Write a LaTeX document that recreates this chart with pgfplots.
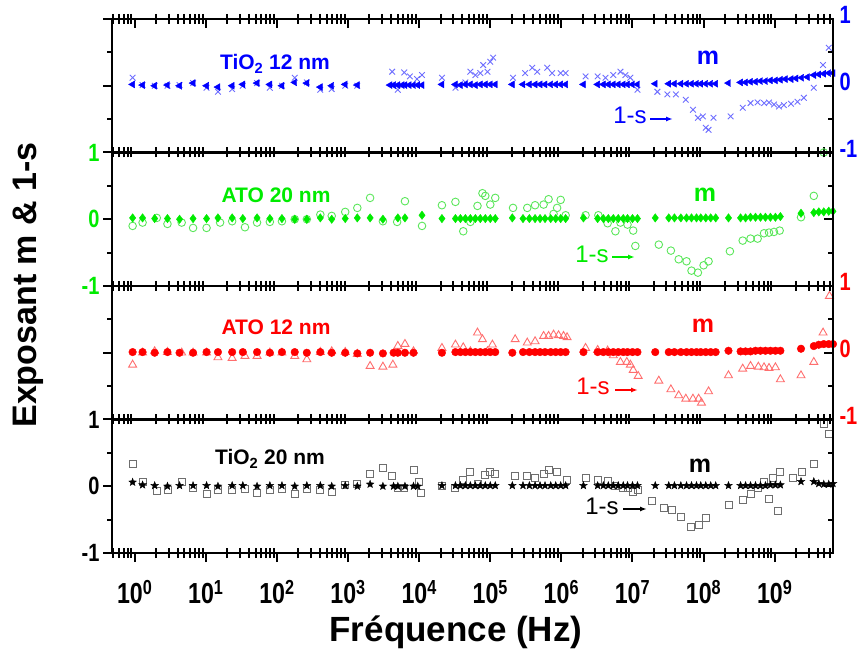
\documentclass[border=0pt]{standalone}
\usepackage{fontspec}
\setmainfont{Liberation Sans}
\newfontfamily\tickfont{Liberation Sans}[FakeStretch=0.8]
\usepackage{pgfplots}
\usepackage{pgfplotstable}
\pgfplotsset{compat=1.18}
\usetikzlibrary{arrows.meta}

\definecolor{cblue}{RGB}{0,0,255}
\definecolor{lblue}{RGB}{110,110,255}
\definecolor{cgreen}{RGB}{0,235,0}
\definecolor{lgreen}{RGB}{90,230,90}
\definecolor{cred}{RGB}{255,0,0}
\definecolor{lred}{RGB}{255,110,110}
\definecolor{sgray}{RGB}{110,110,110}

\pgfdeclareplotmark{fstar}{%
  \pgfpathmoveto{\pgfpointpolar{90}{\pgfplotmarksize}}%
  \pgfpathlineto{\pgfpointpolar{126}{0.42\pgfplotmarksize}}%
  \pgfpathlineto{\pgfpointpolar{162}{\pgfplotmarksize}}%
  \pgfpathlineto{\pgfpointpolar{198}{0.42\pgfplotmarksize}}%
  \pgfpathlineto{\pgfpointpolar{234}{\pgfplotmarksize}}%
  \pgfpathlineto{\pgfpointpolar{270}{0.42\pgfplotmarksize}}%
  \pgfpathlineto{\pgfpointpolar{306}{\pgfplotmarksize}}%
  \pgfpathlineto{\pgfpointpolar{342}{0.42\pgfplotmarksize}}%
  \pgfpathlineto{\pgfpointpolar{18}{\pgfplotmarksize}}%
  \pgfpathlineto{\pgfpointpolar{54}{0.42\pgfplotmarksize}}%
  \pgfpathclose\pgfusepathqfillstroke}

\def\mlist{-0.301,-0.222,-0.155,-0.097,-0.046}
\foreach \d in {0,...,9}{\foreach \k in {0.301,0.477,0.602,0.699,0.778,0.845,0.903,0.954}{\pgfmathsetmacro\v{\d+\k}\xdef\mlist{\mlist,\v}}}

% x = log10(frequency / Hz)
\pgfplotstableread{
x     m1    m2    m3    m4
-0.03 0.02  0.02  0.01  0.06
0.11  0.01  0.02  0.01  0.02
0.28  0.00  0.01  0.00  0.01
0.46  0.01  0.01  0.01  0.00
0.63  0.00  0.00  0.00  0.01
0.82  0.04  0.01  0.00  0.01
1.01  0.00  0.01  0.01  0.01
1.17  -0.02 0.02  0.01  0.00
1.37  0.00  0.02  0.01  0.01
1.52  0.02  0.01  0.01  0.01
1.72  0.04  0.02  0.01  0.00
1.90  0.02  0.01  0.00  0.01
2.07  0.00  0.01  0.01  0.01
2.25  0.05  0.00  0.01  0.00
2.42  0.04  0.00  0.00  0.01
2.61  -0.02 0.02  0.01  0.01
2.77  0.00  0.00  0.00  0.00
2.96  0.02  0.01  0.00  0.01
3.13  0.01  0.02  -0.01 0.00
3.31  nan   0.02  0.00  0.03
3.49  nan   0.00  -0.01 0.00
3.59  0.01  nan   nan   nan
3.64  0.01  nan   0.00  0.00
3.70  0.01  0.02  0.00  0.00
3.76  0.01  nan   nan   nan
3.80  0.01  0.02  0.00  0.00
3.86  0.01  nan   nan   nan
3.92  0.01  nan   0.00  0.00
3.98  0.01  nan   nan   0.00
4.04  0.01  0.06  nan   nan
4.32  0.02  0.01  0.00  0.01
4.51  0.02  0.01  0.01  0.01
4.58  0.01  0.01  0.01  0.01
4.65  0.02  0.01  0.01  0.01
4.72  0.02  0.01  0.01  0.01
4.79  0.01  0.01  0.01  0.01
4.86  0.02  0.01  0.01  0.01
4.93  0.02  0.01  0.01  0.01
5.00  0.02  0.01  0.01  0.01
5.07  0.02  0.01  0.01  0.01
5.31  0.02  0.02  0.00  0.01
5.46  0.02  0.01  0.01  0.01
5.55  0.02  0.01  0.01  0.01
5.63  0.02  0.01  0.01  0.01
5.70  0.02  0.01  0.01  0.01
5.77  0.02  0.01  0.01  0.01
5.85  0.02  0.01  0.01  0.01
5.92  0.02  0.01  0.01  0.01
5.99  0.02  0.01  0.01  0.01
6.06  0.02  0.01  0.01  0.01
6.31  0.02  0.02  0.01  0.01
6.51  0.02  0.01  0.01  0.01
6.59  0.02  0.01  0.01  0.01
6.66  0.02  0.01  0.01  0.01
6.73  0.02  0.01  0.01  0.01
6.80  0.02  0.01  0.01  0.01
6.87  0.02  0.01  0.01  0.01
6.93  0.02  0.01  0.01  0.01
7.00  0.02  0.01  0.01  0.01
7.07  0.02  0.01  0.01  0.01
7.32  0.03  0.02  0.01  0.01
7.51  0.03  0.02  0.01  0.01
7.59  0.03  0.02  0.01  0.01
7.68  0.03  0.02  0.01  0.01
7.76  0.03  0.02  0.01  0.01
7.83  0.03  0.02  0.01  0.01
7.90  0.03  0.02  0.01  0.01
7.96  0.03  0.02  0.01  0.01
8.03  0.03  0.02  0.01  0.01
8.10  0.03  0.02  0.01  0.01
8.17  0.03  0.02  0.01  0.01
8.35  0.04  0.02  0.03  0.01
8.52  0.05  0.02  0.02  0.01
8.59  0.05  0.02  0.02  0.01
8.66  0.06  0.03  0.02  0.01
8.73  0.06  0.03  0.03  0.01
8.80  0.07  0.03  0.03  0.01
8.87  0.07  0.03  0.03  0.01
8.94  0.08  0.03  0.03  0.02
9.01  0.08  0.03  0.03  0.02
9.08  0.09  0.04  0.03  0.02
9.15  0.10  nan   nan   nan
9.23  0.10  nan   nan   nan
9.30  0.11  nan   nan   nan
9.37  nan   0.09  0.06  0.07
9.38  0.12  nan   nan   nan
9.46  0.13  nan   nan   nan
9.55  0.16  0.10  0.10  0.07
9.62  0.17  0.11  0.12  0.04
9.69  0.18  0.11  0.13  0.03
9.76  0.19  0.12  0.13  0.03
9.82  0.19  0.12  0.13  0.04
}\mtab

\pgfplotsset{
  base/.style={width=721pt, height=133.5pt, scale only axis,
    xmin=-0.32, xmax=9.82, ymin=-1, ymax=1,
    axis line style={line width=2.4pt},
    every tick/.append style={line width=2pt, black},
    major tick length=9pt, minor tick length=5pt, clip=false,
    ytick={-1,0,1}, minor ytick={-0.5,0.5}, yticklabels={},
    xtick={0,...,9}, minor xtick/.expanded={\mlist}, xticklabels={}},
  leftax/.style={base, tick align=outside, ytick pos=left, yticklabel pos=left},
  rightax/.style={base, tick align=inside, ytick pos=right, yticklabel pos=right},
  noxt/.style={xmajorticks=false, xminorticks=false},
  ylab/.style={yticklabels={-1,0,1}, yticklabel style={font={\tickfont\bfseries\fontsize{25}{25}\selectfont}, text=#1}},
  mT/.style={only marks, mark=triangle*, mark size=4pt, color=cblue, mark options={rotate=90}},
  xS/.style={only marks, mark=x, mark size=4pt, color=lblue, mark options={line width=0.9pt}},
  mD/.style={only marks, mark=diamond*, mark size=4.2pt, color=cgreen},
  oS/.style={only marks, mark=o, mark size=3.8pt, color=lgreen, mark options={line width=0.9pt}},
  mC/.style={only marks, mark=*, mark size=3.8pt, color=cred},
  tS/.style={only marks, mark=triangle, mark size=4.6pt, color=lred, mark options={line width=0.9pt}},
  mS/.style={only marks, mark=fstar, mark size=4pt, color=black},
  sS/.style={only marks, mark=square, mark size=3.5pt, color=sgray, mark options={line width=0.9pt}},
}

\begin{document}
\begin{tikzpicture}
% ---------- Panel 1 : TiO2 12 nm ----------
\begin{axis}[leftax, noxt, at={(112pt,498.5pt)}, anchor=south west]
\addplot[xS] coordinates {
(-0.03,0.12) (0.11,0.01) (0.28,0.0) (0.46,0.0) (0.63,0.01) (0.82,0.04) (1.01,-0.03) (1.17,-0.09)
(1.37,-0.05) (1.52,0.0) (1.72,0.04) (1.90,-0.03) (2.07,0.0) (2.25,0.12) (2.42,0.05) (2.61,-0.06)
(2.77,-0.05) (2.96,0.0) (3.13,0.0) (3.62,0.21) (3.70,-0.06) (3.79,0.2) (3.87,0.14) (3.97,0.1)
(4.04,0.16) (4.32,0.12) (4.51,-0.03) (4.65,0.05) (4.72,0.21) (4.79,0.16) (4.86,0.19) (4.90,0.31)
(4.96,0.21) (5.00,0.36) (5.04,0.42) (5.32,0.12) (5.49,0.19) (5.59,0.27) (5.66,0.21) (5.80,0.27)
(5.87,0.19) (5.99,0.19) (6.06,0.19) (6.34,0.14) (6.51,0.14) (6.62,0.12) (6.73,0.16) (6.83,0.21)
(6.90,0.16) (6.97,0.12) (7.07,-0.06) (7.35,-0.09) (7.49,-0.13) (7.61,-0.13) (7.75,-0.21)
(7.85,-0.36) (7.92,-0.48) (7.99,-0.46) (8.03,-0.63) (8.07,-0.66) (8.14,-0.48) (8.38,-0.46)
(8.55,-0.33) (8.66,-0.26) (8.76,-0.25) (8.85,-0.26) (8.92,-0.25) (8.99,-0.28) (9.06,-0.31)
(9.13,-0.29) (9.23,-0.27) (9.32,-0.24) (9.41,-0.18) (9.55,-0.03) (9.68,0.31) (9.76,0.57)
};
\addplot[mT] table[x=x, y=m1] {\mtab};
\end{axis}
\begin{axis}[rightax, ylab=cblue, yticklabel style={xshift=3pt, yshift=4pt}, xtick pos=right, at={(112pt,498.5pt)}, anchor=south west]
\end{axis}
% ---------- Panel 2 : ATO 20 nm ----------
\begin{axis}[leftax, noxt, ylab=cgreen, at={(112pt,365pt)}, anchor=south west]
\addplot[oS] coordinates {
(-0.03,-0.1) (0.11,-0.05) (0.31,0.02) (0.46,-0.07) (0.66,-0.05) (0.82,-0.13) (1.01,-0.13)
(1.20,-0.05) (1.37,-0.03) (1.55,-0.12) (1.72,-0.05) (1.90,-0.04) (2.07,-0.03) (2.25,0.0)
(2.42,0.0) (2.61,0.07) (2.77,0.05) (2.96,0.11) (3.13,0.17) (3.31,0.32) (3.49,-0.03) (3.69,-0.04)
(3.80,0.27) (4.04,-0.1) (4.32,0.21) (4.51,0.26) (4.62,-0.18) (4.72,-0.04) (4.82,0.2) (4.89,0.39)
(4.93,0.35) (5.00,0.22) (5.07,0.32) (5.32,0.17) (5.52,0.17) (5.63,0.21) (5.75,0.22) (5.82,0.3)
(5.89,0.08) (5.94,0.17) (5.99,0.29) (6.06,0.06) (6.34,0.06) (6.52,0.06) (6.65,-0.06) (6.76,-0.18)
(6.83,-0.05) (6.93,-0.08) (7.01,-0.17) (7.04,-0.4) (7.37,-0.38) (7.54,-0.47) (7.65,-0.6)
(7.76,-0.63) (7.83,-0.77) (7.92,-0.8) (8.00,-0.69) (8.07,-0.63) (8.37,-0.48) (8.55,-0.32)
(8.66,-0.29) (8.76,-0.29) (8.85,-0.21) (8.92,-0.2) (8.99,-0.19) (9.07,-0.17) (9.37,0.03)
(9.55,0.35) (9.69,1.0)
};
\addplot[mD] table[x=x, y=m2] {\mtab};
\end{axis}
\begin{axis}[rightax, noxt, at={(112pt,365pt)}, anchor=south west]
\end{axis}
% ---------- Panel 3 : ATO 12 nm ----------
\begin{axis}[leftax, noxt, at={(112pt,231.5pt)}, anchor=south west]
\addplot[tS] coordinates {
(-0.03,-0.18) (0.11,0.0) (0.28,0.02) (0.46,0.01) (0.66,0.0) (0.82,0.0) (1.01,0.0) (1.17,-0.07)
(1.37,-0.08) (1.55,-0.05) (1.72,-0.05) (1.90,0.0) (2.07,0.0) (2.25,-0.05) (2.42,-0.1) (2.61,0.01)
(2.77,0.02) (2.96,0.01) (3.13,-0.02) (3.31,-0.2) (3.49,-0.21) (3.63,-0.18) (3.70,0.1) (3.80,0.13)
(3.92,0.02) (4.32,0.07) (4.51,0.12) (4.62,0.08) (4.72,0.02) (4.82,0.3) (4.89,0.2) (4.96,0.02)
(5.03,0.12) (5.35,0.2) (5.52,0.15) (5.63,0.17) (5.75,0.25) (5.82,0.25) (5.89,0.27) (5.96,0.26)
(6.03,0.25) (6.08,0.23) (6.34,0.07) (6.51,0.04) (6.65,0.03) (6.73,-0.04) (6.83,-0.14)
(6.92,-0.14) (6.97,-0.18) (7.01,-0.26) (7.08,-0.35) (7.37,-0.42) (7.54,-0.55) (7.65,-0.64)
(7.75,-0.69) (7.85,-0.69) (7.93,-0.69) (7.97,-0.75) (8.07,-0.58) (8.35,-0.34) (8.55,-0.24)
(8.66,-0.2) (8.77,-0.21) (8.85,-0.22) (8.92,-0.23) (9.01,-0.22) (9.08,-0.4) (9.37,-0.34)
(9.55,-0.14) (9.68,0.3) (9.77,0.85)
};
\addplot[mC] table[x=x, y=m3] {\mtab};
\end{axis}
\begin{axis}[rightax, noxt, ylab=cred, yticklabel style={xshift=3pt, yshift=4pt}, at={(112pt,231.5pt)}, anchor=south west]
\end{axis}
% ---------- Panel 4 : TiO2 20 nm ----------
\begin{axis}[leftax, ylab=black, at={(112pt,98pt)}, anchor=south west,
  xtick pos=left,
  xticklabels={10\textsuperscript{0},10\textsuperscript{1},10\textsuperscript{2},10\textsuperscript{3},10\textsuperscript{4},10\textsuperscript{5},10\textsuperscript{6},10\textsuperscript{7},10\textsuperscript{8},10\textsuperscript{9}},
  xticklabel style={font={\tickfont\bfseries\fontsize{29}{29}\selectfont}, yshift=-15pt}]
\addplot[sS] coordinates {
(-0.03,0.33) (0.11,0.07) (0.31,-0.07) (0.46,-0.05) (0.66,0.06) (0.82,-0.03) (1.01,-0.12)
(1.17,-0.06) (1.37,-0.06) (1.55,-0.04) (1.72,-0.1) (1.90,-0.06) (2.07,-0.04) (2.25,-0.12)
(2.42,-0.04) (2.61,-0.05) (2.77,-0.09) (2.96,0.02) (3.13,0.04) (3.31,0.18) (3.49,0.28)
(3.62,0.15) (3.70,-0.03) (3.79,-0.03) (3.92,0.25) (3.99,0.06) (4.03,-0.1) (4.32,0.0)
(4.51,-0.03) (4.62,0.1) (4.72,0.21) (4.82,0.04) (4.93,0.17) (5.00,0.21) (5.07,0.19) (5.35,0.16)
(5.52,0.16) (5.63,0.12) (5.75,0.18) (5.82,0.25) (5.94,0.21) (6.08,0.1) (6.34,0.12) (6.52,0.09)
(6.65,0.08) (6.76,0.0) (6.86,-0.03) (6.93,-0.03) (7.01,-0.09) (7.08,-0.05) (7.28,-0.22)
(7.44,-0.32) (7.56,-0.36) (7.68,-0.46) (7.82,-0.61) (7.93,-0.58) (8.04,-0.48) (8.35,-0.28)
(8.55,-0.21) (8.66,-0.12) (8.76,-0.03) (8.85,0.07) (8.92,-0.19) (8.97,0.13) (9.04,-0.37)
(9.07,0.22) (9.25,0.12) (9.38,0.21) (9.55,0.33) (9.69,0.94) (9.76,0.78)
};
\addplot[mS] table[x=x, y=m4] {\mtab};
\end{axis}
\begin{axis}[rightax, noxt, at={(112pt,98pt)}, anchor=south west]
\end{axis}

% ---------- text ----------
\node[anchor=base, text=cblue, font=\bfseries\fontsize{21}{21}\selectfont] at (275pt,581pt) {TiO\textsubscript{2} 12 nm};
\node[anchor=base, text=cgreen, font=\bfseries\fontsize{21}{21}\selectfont] at (276pt,448pt) {ATO 20 nm};
\node[anchor=base, text=cred, font=\bfseries\fontsize{21}{21}\selectfont] at (276pt,316pt) {ATO 12 nm};
\node[anchor=base, text=black, font=\bfseries\fontsize{21}{21}\selectfont] at (270pt,186pt) {TiO\textsubscript{2} 20 nm};

\node[anchor=base, text=cblue, font=\bfseries\fontsize{25}{25}\selectfont] at (708pt,586pt) {m};
\node[anchor=base, text=cgreen, font=\bfseries\fontsize{25}{25}\selectfont] at (705pt,449pt) {m};
\node[anchor=base, text=cred, font=\bfseries\fontsize{25}{25}\selectfont] at (703pt,318pt) {m};
\node[anchor=base, text=black, font=\bfseries\fontsize{25}{25}\selectfont] at (700pt,178pt) {m};

\node[anchor=base, text=cblue, font=\fontsize{24}{24}\selectfont] at (630pt,527pt) {1-s};
\draw[cblue, line width=1.4pt, -{Latex[length=7pt,width=5pt]}] (650pt,532pt) -- (673pt,532pt);
\node[anchor=base, text=cgreen, font=\fontsize{24}{24}\selectfont] at (592pt,388pt) {1-s};
\draw[cgreen, line width=1.4pt, -{Latex[length=7pt,width=5pt]}] (612pt,394pt) -- (635pt,394pt);
\node[anchor=base, text=cred, font=\fontsize{24}{24}\selectfont] at (593pt,256pt) {1-s};
\draw[cred, line width=1.4pt, -{Latex[length=7pt,width=5pt]}] (615pt,261pt) -- (638pt,261pt);
\node[anchor=base, text=black, font=\fontsize{24}{24}\selectfont] at (602pt,136pt) {1-s};
\draw[black, line width=1.4pt, -{Latex[length=7pt,width=5pt]}] (623pt,142pt) -- (647pt,142pt);

\node[rotate=90, font=\bfseries\fontsize{34}{34}\selectfont] at (28pt,366pt) {Exposant m \& 1-s};
\node[font=\bfseries\fontsize{35}{35}\selectfont] at (456pt,19pt) {Fréquence (Hz)};

\pgfresetboundingbox
\useasboundingbox (0pt,0pt) rectangle (862pt,651pt);
\end{tikzpicture}
\end{document}
